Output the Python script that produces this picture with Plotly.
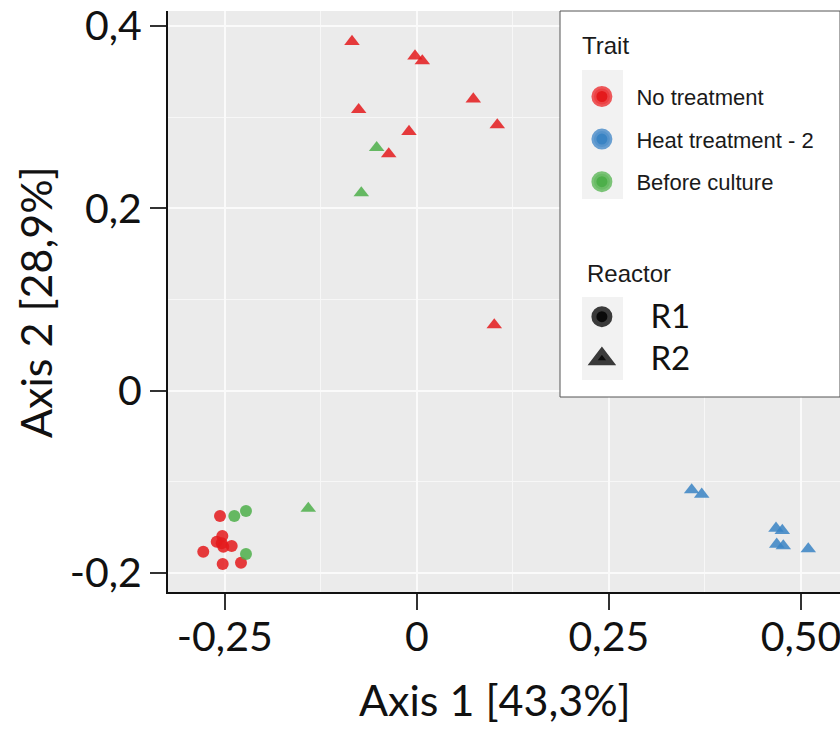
import plotly.graph_objects as go

# ---------------- data ----------------
traits = ["No treatment", "Heat treatment - 2", "Before culture"]
trait_colors = ["#E41A1C", "#3A84C4", "#4DAF4A"]
reactors = ["R1", "R2"]

# R1 (circles)
r1_no_x = [-0.2562, -0.2532, -0.2605, -0.2540, -0.2519, -0.2410, -0.2780, -0.2527, -0.2289]
r1_no_y = [-0.1378, -0.1597, -0.1660, -0.1677, -0.1715, -0.1707, -0.1769, -0.1905, -0.1890]
r1_bc_x = [-0.2376, -0.2224, -0.2224]
r1_bc_y = [-0.1378, -0.1323, -0.1795]

# R2 (triangles)
r2_no_x = [-0.0844, -0.0024, 0.0071, 0.0735, -0.0757, 0.1047, -0.0102, -0.0366, 0.1008]
r2_no_y = [0.3830, 0.3672, 0.3618, 0.3200, 0.3083, 0.2915, 0.2842, 0.2597, 0.0720]
r2_bc_x = [-0.0523, -0.0723, -0.1413]
r2_bc_y = [0.2666, 0.2169, -0.1294]
r2_ht_x = [0.3577, 0.3708, 0.4675, 0.4757, 0.4684, 0.4770, 0.5095]
r2_ht_y = [-0.1092, -0.1140, -0.1513, -0.1538, -0.1689, -0.1706, -0.1739]

x_tickvals = [-0.25, 0, 0.25, 0.5]
x_ticktext = ["-0,25", "0", "0,25", "0,50"]
y_tickvals = [-0.2, 0, 0.2, 0.4]
y_ticktext = ["-0,2", "0", "0,2", "0,4"]

x_title = "Axis 1 [43,3%]"
y_title = "Axis 2 [28,9%]"

# ---------------- figure ----------------
W, H = 840, 731
ML, MR, MT, MB = 168, 0, 11, 139
PW, PH = W - ML - MR, H - MT - MB


def px_x(p):
    return (p - ML) / PW


def px_y(p):
    return (H - MB - p) / PH


fig = go.Figure()

point_sets = [
    (r1_no_x, r1_no_y, 0, "circle"),
    (r1_bc_x, r1_bc_y, 2, "circle"),
    (r2_bc_x, r2_bc_y, 2, "triangle-up"),
    (r2_no_x, r2_no_y, 0, "triangle-up"),
    (r2_ht_x, r2_ht_y, 1, "triangle-up"),
]
for xs, ys, ti, sym in point_sets:
    fig.add_trace(go.Scatter(
        x=xs, y=ys, mode="markers", showlegend=False,
        marker=dict(color=trait_colors[ti], symbol=sym,
                    size=12 if sym == "circle" else 13.5,
                    opacity=0.85, line=dict(width=0)),
        hoverinfo="skip",
    ))

ring = ["rgba(236,70,72,0.9)", "rgba(90,150,205,0.9)", "rgba(110,190,105,0.9)"]

# legend entries: Trait
for i, (name, col) in enumerate(zip(traits, trait_colors)):
    fig.add_trace(go.Scatter(
        x=[None], y=[None], mode="markers", name=name,
        legend="legend", legendgroup="t%d" % i,
        marker=dict(color=col, symbol="circle", size=16, opacity=1,
                    line=dict(width=5, color=ring[i])),
    ))

# legend entries: Reactor
for name, sym in zip(reactors, ["circle", "triangle-up"]):
    fig.add_trace(go.Scatter(
        x=[None], y=[None], mode="markers",
        name="<span style='font-size:33px'>%s</span>" % name,
        legend="legend2", legendgroup="reactor",
        marker=dict(color="#0a0a0a", symbol=sym, size=16, opacity=1,
                    line=dict(width=5, color="#3a3a3a")),
    ))

shapes = [
    # legend box
    dict(type="rect", xref="paper", yref="paper", layer="above",
         x0=px_x(560), x1=1.0, y0=px_y(397), y1=1.0,
         fillcolor="white", line=dict(color="#555555", width=1)),
    # key backgrounds
    dict(type="rect", xref="paper", yref="paper", layer="above",
         x0=px_x(582), x1=px_x(623), y0=px_y(199), y1=px_y(70),
         fillcolor="#F2F2F2", line=dict(width=0)),
    dict(type="rect", xref="paper", yref="paper", layer="above",
         x0=px_x(582), x1=px_x(623), y0=px_y(380), y1=px_y(297),
         fillcolor="#F2F2F2", line=dict(width=0)),
]

annotations = [
    dict(text="Trait", xref="paper", yref="paper", x=px_x(580), y=px_y(45),
         xanchor="left", yanchor="middle", showarrow=False,
         font=dict(family="Liberation Sans", size=24, color="#1a1a1a")),
    dict(text="Reactor", xref="paper", yref="paper", x=px_x(585), y=px_y(273),
         xanchor="left", yanchor="middle", showarrow=False,
         font=dict(family="Liberation Sans", size=24, color="#1a1a1a")),
    dict(text=x_title, xref="paper", yref="paper", x=px_x(495), y=px_y(699),
         xanchor="center", yanchor="middle", showarrow=False,
         font=dict(family="Lato", size=43, color="#111")),
    dict(text=y_title, xref="paper", yref="paper", x=px_x(35), y=px_y(302),
         xanchor="center", yanchor="middle", showarrow=False, textangle=-90,
         font=dict(family="Lato", size=43, color="#111")),
]

axis_common = dict(
    showline=True, linecolor="#111", linewidth=2, mirror=False,
    ticks="outside", ticklen=16, tickwidth=2, tickcolor="#333",
    tickfont=dict(family="Lato", size=41, color="#111"),
    ticklabeloverflow="allow",
    showgrid=True, gridcolor="#FAFAFA", gridwidth=2, zeroline=False,
)

fig.update_layout(
    width=W, height=H,
    margin=dict(l=ML, r=MR, t=MT, b=MB, autoexpand=False),
    paper_bgcolor="white", plot_bgcolor="#EBEBEB",
    xaxis=dict(range=[-0.3239, 0.5508], tickmode="array",
               tickvals=x_tickvals, ticktext=x_ticktext,
               ticklabelstandoff=-8,
               minor=dict(tick0=0, dtick=0.125, showgrid=True,
                          gridcolor="#F7F7F7", gridwidth=1.3, ticks=""),
               **axis_common),
    yaxis=dict(range=[-0.2212, 0.4166], tickmode="array",
               tickvals=y_tickvals, ticktext=y_ticktext,
               minor=dict(tick0=0, dtick=0.1, showgrid=True,
                          gridcolor="#F7F7F7", gridwidth=1.3, ticks=""),
               **axis_common),
    shapes=shapes,
    annotations=annotations,
    legend=dict(x=px_x(567.4), y=px_y(75.7), xanchor="left", yanchor="top",
                bgcolor="rgba(0,0,0,0)", borderwidth=0, itemwidth=59,
                tracegroupgap=11, itemclick=False, itemdoubleclick=False,
                font=dict(family="Liberation Sans", size=22, color="#1a1a1a")),
    legend2=dict(x=px_x(553.4), y=px_y(290.7), xanchor="left", yanchor="top",
                 bgcolor="rgba(0,0,0,0)", borderwidth=0, itemwidth=87,
                 tracegroupgap=0, itemclick=False, itemdoubleclick=False,
                 font=dict(family="Lato", size=30, color="#111")),
)

fig.write_html(
    "out.html",
    config={"displayModeBar": False},
    post_script="document.body.style.margin='0';document.body.style.overflow='hidden';",
)
